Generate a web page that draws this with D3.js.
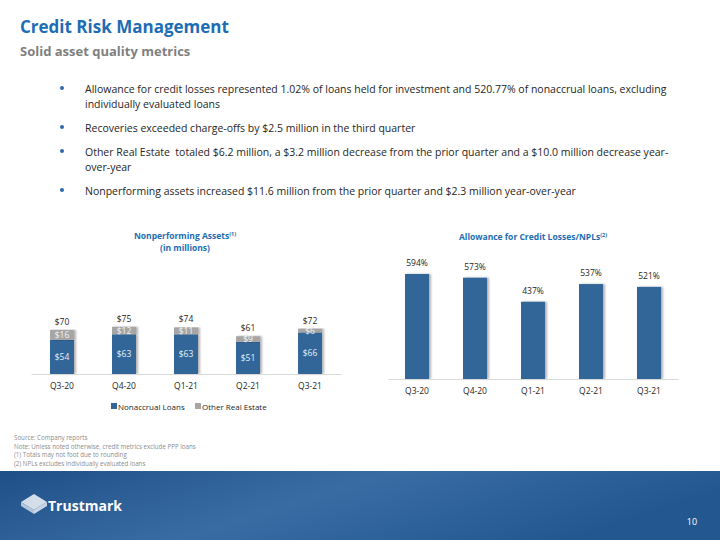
<!DOCTYPE html>
<meta charset="utf-8">
<script src="https://d3js.org/d3.v7.min.js"></script>
<style>
  body { margin: 0; background: #fff; }
  text { font-family: "Open Sans", "Noto Sans", sans-serif; white-space: pre; }
</style>
<div id="slide"></div>
<script>

// data
var quarters = ["Q3-20", "Q4-20", "Q1-21", "Q2-21", "Q3-21"];
var nonaccrual = [54, 63, 63, 51, 66];
var otherRealEstate = [16, 12, 11, 9, 6];
var npaTotals = [70, 75, 74, 61, 72];
var allowancePct = [594, 573, 437, 537, 521];

var bullets = [
  ["Allowance for credit losses represented 1.02% of loans held for investment and 520.77% of nonaccrual loans, excluding",
   "individually evaluated loans"],
  ["Recoveries exceeded charge-offs by $2.5 million in the third quarter"],
  ["Other Real Estate  totaled $6.2 million, a $3.2 million decrease from the prior quarter and a $10.0 million decrease year-",
   "over-year"],
  ["Nonperforming assets increased $11.6 million from the prior quarter and $2.3 million year-over-year"]
];
var footnotes = [
  "Source: Company reports",
  "Note: Unless noted otherwise, credit metrics exclude PPP loans",
  "(1) Totals may not foot due to rounding",
  "(2) NPLs excludes individually evaluated loans"
];

var blue = "#336699", grey = "#a6a6a6";

var svg = d3.select("#slide").append("svg")
    .attr("width", 720)
    .attr("height", 540);

var defs = svg.append("defs");
var grad = defs.append("linearGradient").attr("id", "foot")
    .attr("x1", "0").attr("y1", "0").attr("x2", "1").attr("y2", "0.3");
grad.append("stop").attr("offset", "0").attr("stop-color", "#1f4f87");
grad.append("stop").attr("offset", "0.5").attr("stop-color", "#3a6ca4");
grad.append("stop").attr("offset", "1").attr("stop-color", "#22578f");
var shadow = defs.append("filter").attr("id", "shadow")
    .attr("x", "-20%").attr("y", "-5%").attr("width", "150%").attr("height", "110%");
shadow.append("feDropShadow").attr("dx", 2).attr("dy", 0).attr("stdDeviation", 1)
    .attr("flood-color", "#000").attr("flood-opacity", 0.3);

// header
svg.append("text").attr("x", 20).attr("y", 33)
    .style("font-size", "17px").style("font-weight", "bold").style("fill", "#1c6db4")
    .text("Credit Risk Management");
svg.append("text").attr("x", 20).attr("y", 56)
    .style("font-size", "13px").style("font-weight", "bold").style("fill", "#7f7f7f")
    .text("Solid asset quality metrics");

// bullets
var bulletY = [93, 132, 156, 195];
bullets.forEach(function(lines, i) {
  svg.append("circle").attr("cx", 62).attr("cy", bulletY[i] - 5).attr("r", 2)
      .style("fill", "#2f6aa8");
  lines.forEach(function(l, j) {
    svg.append("text").attr("x", 85).attr("y", bulletY[i] + j * 15)
        .style("font-size", "10.5px").style("fill", "#262626")
        .text(l);
  });
});

// left chart - nonperforming assets
var x1 = d3.scaleBand().domain(quarters).range([31, 341]).paddingInner(0.613).paddingOuter(0.306);
var y1 = d3.scaleLinear().domain([0, 100]).range([374, 311]);

var t1 = svg.append("text").attr("x", 185).attr("y", 239).attr("text-anchor", "middle")
    .style("font-size", "8.5px").style("font-weight", "bold").style("fill", "#1c6db4");
t1.append("tspan").text("Nonperforming Assets");
t1.append("tspan").attr("dy", -3).style("font-size", "5.5px").text("(1)");
svg.append("text").attr("x", 185).attr("y", 251).attr("text-anchor", "middle")
    .style("font-size", "8.5px").style("font-weight", "bold").style("fill", "#1c6db4")
    .text("(in millions)");

var stack = quarters.map(function(q, i) {
  return { q: q, na: nonaccrual[i], ore: otherRealEstate[i], total: npaTotals[i] };
});

var g1 = svg.append("g");
g1.selectAll(".na").data(stack).join("rect")
    .attr("x", function(d) { return x1(d.q); })
    .attr("width", x1.bandwidth())
    .attr("y", function(d) { return y1(d.na); })
    .attr("height", function(d) { return y1(0) - y1(d.na); })
    .attr("filter", "url(#shadow)")
    .style("fill", blue);
g1.selectAll(".ore").data(stack).join("rect")
    .attr("x", function(d) { return x1(d.q); })
    .attr("width", x1.bandwidth())
    .attr("y", function(d) { return y1(d.na + d.ore); })
    .attr("height", function(d) { return y1(d.na) - y1(d.na + d.ore); })
    .attr("filter", "url(#shadow)")
    .style("fill", grey);

g1.selectAll(".nal").data(stack).join("text")
    .attr("x", function(d) { return x1(d.q) + x1.bandwidth() / 2; })
    .attr("y", function(d) { return (y1(0) + y1(d.na)) / 2 + 3; })
    .attr("text-anchor", "middle")
    .style("font-size", "8.5px").style("fill", "#e8eef5")
    .text(function(d) { return "$" + d.na; });
g1.selectAll(".orel").data(stack).join("text")
    .attr("x", function(d) { return x1(d.q) + x1.bandwidth() / 2; })
    .attr("y", function(d) { return (y1(d.na) + y1(d.na + d.ore)) / 2 + 3; })
    .attr("text-anchor", "middle")
    .style("font-size", "8.5px").style("fill", "#f2f2f2")
    .text(function(d) { return "$" + d.ore; });
g1.selectAll(".tot").data(stack).join("text")
    .attr("x", function(d) { return x1(d.q) + x1.bandwidth() / 2; })
    .attr("y", function(d) { return y1(d.na + d.ore) - 5; })
    .attr("text-anchor", "middle")
    .style("font-size", "8.5px").style("fill", "#262626")
    .text(function(d) { return "$" + d.total; });

var ax1 = svg.append("g").attr("transform", "translate(0,374)")
    .call(d3.axisBottom(x1).tickSize(0).tickPadding(9));
ax1.select(".domain").attr("stroke", "#d9d9d9");
ax1.selectAll("text").style("font-size", "8.5px").style("fill", "#262626")
    .style("font-family", "'Open Sans', sans-serif");

// legend
var legend = [["Nonaccrual Loans", blue, 111], ["Other Real Estate", grey, 195]];
legend.forEach(function(l) {
  svg.append("rect").attr("x", l[2]).attr("y", 403).attr("width", 6).attr("height", 6).style("fill", l[1]);
  svg.append("text").attr("x", l[2] + 7).attr("y", 410)
      .style("font-size", "8px").style("fill", "#262626").text(l[0]);
});

// right chart - allowance / NPLs
var x2 = d3.scaleBand().domain(quarters).range([388, 678]).paddingInner(0.586).paddingOuter(0.293);
var y2 = d3.scaleLinear().domain([0, 600]).range([379, 379 - 0.1768 * 600]);

var t2 = svg.append("text").attr("x", 533).attr("y", 240).attr("text-anchor", "middle")
    .style("font-size", "8.5px").style("font-weight", "bold").style("fill", "#1c6db4");
t2.append("tspan").text("Allowance for Credit Losses/NPLs");
t2.append("tspan").attr("dy", -3).style("font-size", "5.5px").text("(2)");

var g2 = svg.append("g");
g2.selectAll("rect").data(allowancePct).join("rect")
    .attr("x", function(d, i) { return x2(quarters[i]); })
    .attr("width", x2.bandwidth())
    .attr("y", function(d) { return y2(d); })
    .attr("height", function(d) { return y2(0) - y2(d); })
    .attr("filter", "url(#shadow)")
    .style("fill", blue);
g2.selectAll("text").data(allowancePct).join("text")
    .attr("x", function(d, i) { return x2(quarters[i]) + x2.bandwidth() / 2; })
    .attr("y", function(d) { return y2(d) - 8; })
    .attr("text-anchor", "middle")
    .style("font-size", "8.5px").style("fill", "#262626")
    .text(function(d) { return d + "%"; });

var ax2 = svg.append("g").attr("transform", "translate(0,379)")
    .call(d3.axisBottom(x2).tickSize(0).tickPadding(9));
ax2.select(".domain").attr("stroke", "#d9d9d9");
ax2.selectAll("text").style("font-size", "8.5px").style("fill", "#262626")
    .style("font-family", "'Open Sans', sans-serif");

// footnotes
footnotes.forEach(function(f, i) {
  svg.append("text").attr("x", 14).attr("y", 440 + i * 8.5)
      .style("font-size", "6.2px").style("fill", "#8c8c8c").text(f);
});

// footer
svg.append("rect").attr("x", 0).attr("y", 471).attr("width", 720).attr("height", 69)
    .style("fill", "url(#foot)");
// logo mark
var logo = svg.append("g").attr("transform", "translate(21,492)");
logo.append("path").attr("d", "M0,10 L13,2 L26,10 L13,18 Z").style("fill", "#e6ecf3").style("opacity", 0.9);
logo.append("path").attr("d", "M13,18 L26,10 L26,14 L13,22 Z").style("fill", "#c9d6e6");
logo.append("path").attr("d", "M0,10 L13,18 L13,22 L0,14 Z").style("fill", "#b5c6dc");
svg.append("text").attr("x", 48).attr("y", 511)
    .style("font-size", "14px").style("font-weight", "bold").style("fill", "#fff")
    .style("font-family", "'Open Sans', sans-serif")
    .text("Trustmark");
svg.append("text").attr("x", 692).attr("y", 525).attr("text-anchor", "middle")
    .style("font-size", "9px").style("fill", "#fff").text("10");

</script>
